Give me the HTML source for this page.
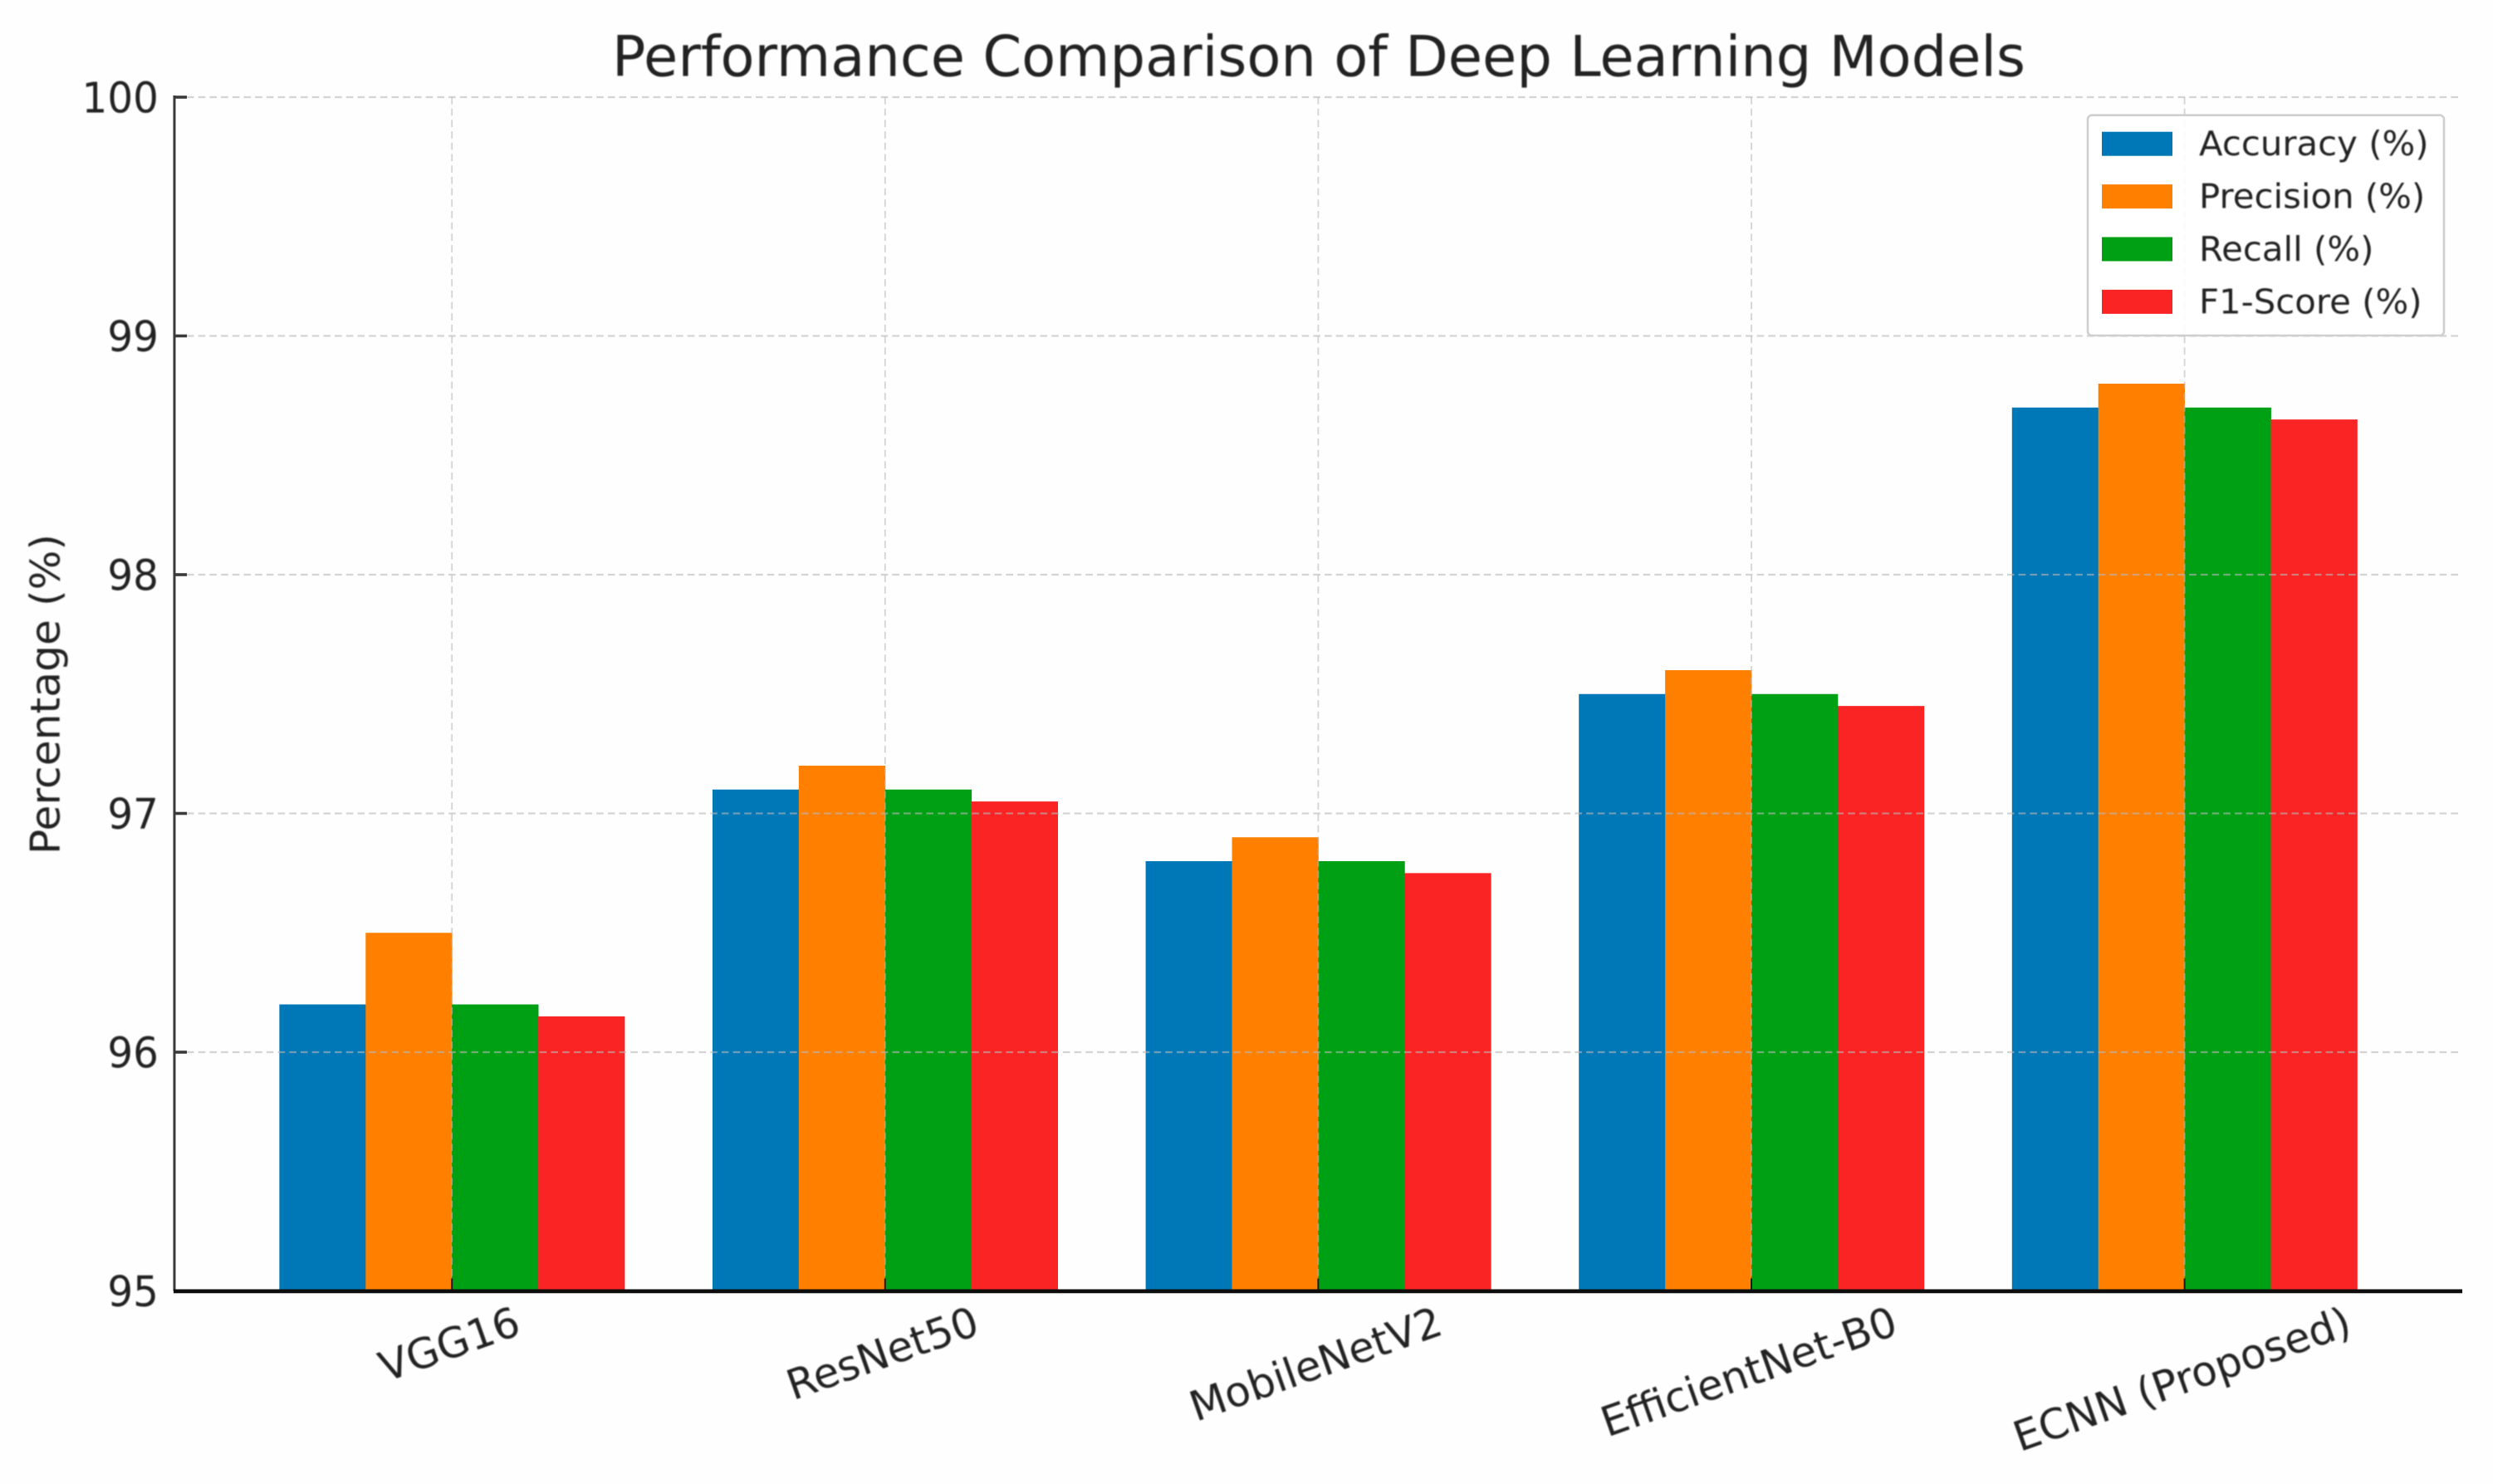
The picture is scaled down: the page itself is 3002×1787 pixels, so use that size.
<!DOCTYPE html>
<html lang="en">
<head>
<meta charset="utf-8">
<title>Performance Comparison of Deep Learning Models</title>
<style>
  html, body { margin: 0; padding: 0; background: #fff; }
  svg { display: block; }
  text { font-family: "DejaVu Sans", "Liberation Sans", sans-serif; fill: #222; filter: blur(0.7px); }
</style>
</head>
<body>
<svg id="chart" xmlns="http://www.w3.org/2000/svg" width="3002" height="1787" viewBox="0 0 3002 1787">
  <rect x="0" y="0" width="3002" height="1787" fill="#fefefe"></rect>
  <g id="bars"></g>
  <g id="grid"></g>
  <g id="axes"></g>
  <g id="legend"></g>
  <text x="1588" y="91.7" font-size="68" text-anchor="middle" textLength="1702" lengthAdjust="spacingAndGlyphs">Performance Comparison of Deep Learning Models</text>
  <text transform="translate(71.7 836) rotate(-90)" font-size="49" text-anchor="middle" textLength="386" lengthAdjust="spacingAndGlyphs">Percentage (%)</text>
</svg>
<script>
const categories = ['VGG16', 'ResNet50', 'MobileNetV2', 'EfficientNet-B0', 'ECNN (Proposed)'];
const accuracy = [96.2, 97.1, 96.8, 97.5, 98.7];
const precision = [96.5, 97.2, 96.9, 97.6, 98.8];
const recall = [96.2, 97.1, 96.8, 97.5, 98.7];
const f1Score = [96.15, 97.05, 96.75, 97.45, 98.65];
const yTickLabels = [95, 96, 97, 98, 99, 100];
const seriesNames = ['Accuracy (%)', 'Precision (%)', 'Recall (%)', 'F1-Score (%)'];

const seriesValues = [accuracy, precision, recall, f1Score];
const seriesSlugs = ['accuracy', 'precision', 'recall', 'f1-score'];
const seriesColors = ['#0077b6', '#ff8000', '#00a015', '#fb2424'];

const NS = 'http://www.w3.org/2000/svg';
const Y_MIN = 95, Y_TOP_PX = 117, Y_UNIT_PX = 287.5;
const X_FIRST_PX = 544.2, X_STEP_PX = 521.6, BAR_UNITS = 0.1992;
const AXIS_LEFT = 210, AXIS_RIGHT = 2965;

function xScale(i) { return X_FIRST_PX + X_STEP_PX * i; }
function yScale(v) { return Y_TOP_PX + (100 - v) * Y_UNIT_PX; }
function slug(s) { return s.toLowerCase().replace(/[^a-z0-9]+/g, '-').replace(/-$/, ''); }

function make(tag, attrs, parent) {
  const el = document.createElementNS(NS, tag);
  for (const k in attrs) el.setAttribute(k, attrs[k]);
  parent.appendChild(el);
  return el;
}

const barsG = document.getElementById('bars');
const gridG = document.getElementById('grid');
const axesG = document.getElementById('axes');
const legendG = document.getElementById('legend');
const baseY = yScale(Y_MIN);
const barW = X_STEP_PX * BAR_UNITS;

seriesValues.forEach(function (values, s) {
  values.forEach(function (v, i) {
    const left = xScale(i) + (s - seriesValues.length / 2) * barW;
    const el = make('rect', { x: left, y: yScale(v), width: barW + 0.4, height: baseY - yScale(v), fill: seriesColors[s] }, barsG);
    
    
  });
});

yTickLabels.forEach(function (t) {
  const y = yScale(t);
  if (t !== Y_MIN) {
    const line = make('line', { x1: AXIS_LEFT + 15, x2: AXIS_RIGHT, y1: y, y2: y, stroke: '#b8b8b8', 'stroke-opacity': 0.6, 'stroke-width': 2.2, 'stroke-dasharray': '8.6 5.1' }, gridG);
    
    
    const tick = make('line', { x1: AXIS_LEFT, x2: AXIS_LEFT + 15, y1: y, y2: y, stroke: '#3a3a3a', 'stroke-width': 3.6 }, axesG);
    
    
  }
  const label = make('text', { transform: 'translate(191 ' + (y + 18.5) + ') scale(0.95 1)', 'font-size': 51, 'text-anchor': 'end' }, axesG);
  label.textContent = String(t);
  
  
});

categories.forEach(function (c, i) {
  const x = xScale(i);
  const line = make('line', { x1: x, x2: x, y1: Y_TOP_PX, y2: baseY, stroke: '#b8b8b8', 'stroke-opacity': 0.6, 'stroke-width': 1.8, 'stroke-dasharray': '8.6 5.1' }, gridG);
  
  
  const tick = make('line', { x1: x, x2: x, y1: baseY - 15, y2: baseY, stroke: '#1a1a1a', 'stroke-width': 2 }, axesG);
  
  
  const label = make('text', { 'font-size': 50, 'text-anchor': 'middle' }, axesG);
  label.textContent = c;
  
  
  const w = label.getComputedTextLength();
  const angle = 19.5 * Math.PI / 180;
  const boxH = w * Math.sin(angle) + 36 * Math.cos(angle);
  const cy = 1573 + boxH / 2;
  label.setAttribute('transform', 'translate(' + (x - 3) + ' ' + cy + ') rotate(-19.5) translate(0 17)');
});

const ySpine = make('line', { x1: AXIS_LEFT, x2: AXIS_LEFT, y1: Y_TOP_PX - 2, y2: baseY, stroke: '#3a3a3a', 'stroke-width': 3 }, axesG);


const xSpine = make('line', { x1: AXIS_LEFT - 1, x2: AXIS_RIGHT, y1: baseY + 0.4, y2: baseY + 0.4, stroke: '#0d0d0d', 'stroke-width': 4.8 }, axesG);



const legendBox = make('rect', { x: 2514, y: 138.7, width: 429, height: 265.3, rx: 5, ry: 5, fill: '#fff', 'fill-opacity': 0.85, stroke: '#cfcfcf', 'stroke-width': 2.6 }, legendG);



seriesNames.forEach(function (name, s) {
  const cy = 173.2 + s * 63.4;
  const swatch = make('rect', { x: 2531, y: cy - 14.5, width: 85, height: 29, fill: seriesColors[s] }, legendG);
  
  
  const label = make('text', { transform: 'translate(2648 ' + (cy + 14) + ') scale(1.02 1)', 'font-size': 41 }, legendG);
  label.textContent = name;
  
  
});
</script>
</body>
</html>
